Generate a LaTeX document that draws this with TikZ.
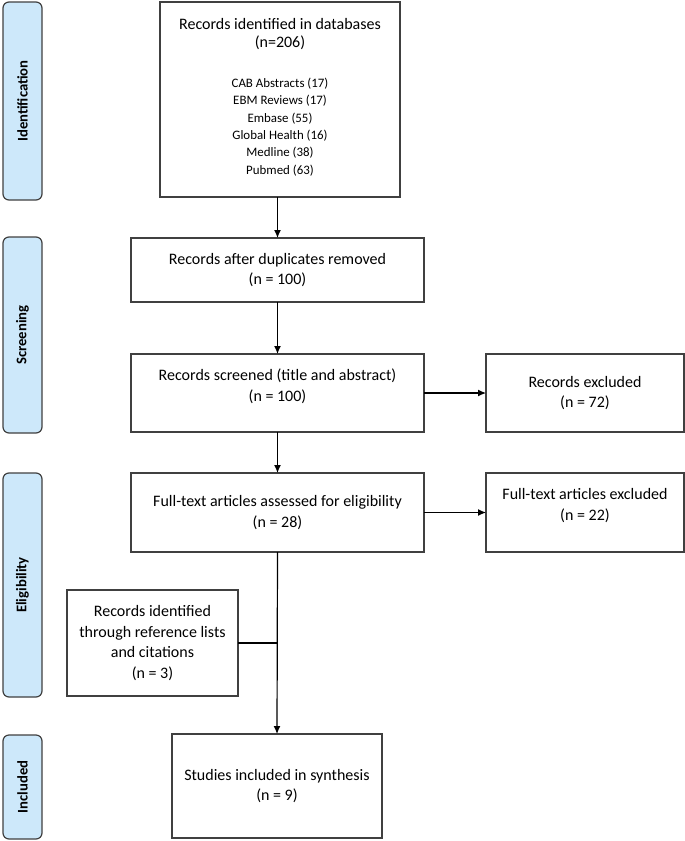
\documentclass[tikz,border=0pt]{standalone}
\usepackage{fontspec}
\setmainfont{Carlito}
\usetikzlibrary{arrows.meta}
\definecolor{sidefill}{HTML}{CDE8FA}
\definecolor{edge}{HTML}{404040}
\begin{document}
\begin{tikzpicture}[x=1pt,y=-1pt,
  box/.style={draw=edge, line width=1.2pt, fill=white, inner sep=0pt, outer sep=0pt, anchor=north west},
  side/.style={draw=edge, line width=1.2pt, fill=sidefill, rounded corners=6pt, inner sep=0pt, outer sep=0pt, anchor=north west, minimum width=39pt},
  sidetxt/.style={rotate=90, font=\fontsize{14.7}{17}\selectfont\bfseries},
  txt/.style={align=center, font=\fontsize{16}{20.7}\selectfont, inner sep=0pt},
  small/.style={align=center, font=\fontsize{12.9}{17.3}\selectfont, inner sep=0pt},
  arr/.style={-{Latex[length=8pt,width=7pt]}, line width=1.2pt},
  ln/.style={line width=1.2pt}]
\useasboundingbox (0,0) rectangle (685,841);
% side bars
\node[side, minimum height=198pt] (s1) at (3,2) {};
\node[sidetxt] (s1t) at (s1.center) {Identification};
\node[side, minimum height=196pt] (s2) at (3,237) {};
\node[sidetxt] (s2t) at (s2.center) {Screening};
\node[side, minimum height=224pt] (s3) at (3,473) {};
\node[sidetxt] (s3t) at (s3.center) {Eligibility};
\node[side, minimum height=104pt] (s4) at (3,735) {};
\node[sidetxt] (s4t) at (s4.center) {Included};
% boxes
\node[box, minimum width=240pt, minimum height=195pt] (b1) at (160,2) {};
\node[txt, font=\fontsize{16}{18.5}\selectfont] (b1t) at (280,34) {Records identified in databases\\(n=206)};
\node[small] (b1l) at (280,127) {CAB Abstracts (17)\\EBM Reviews (17)\\Embase (55)\\Global Health (16)\\Medline (38)\\Pubmed (63)};
\node[box, minimum width=293pt, minimum height=64pt] (b2) at (131,238) {};
\node[txt] (b2t) at (b2.center) {Records after duplicates removed\\(n = 100)};
\node[box, minimum width=293pt, minimum height=78pt] (b3) at (131,354) {};
\node[txt] (b3t) at (277.5,386) {Records screened (title and abstract)\\(n = 100)};
\node[box, minimum width=198pt, minimum height=78pt] (e1) at (486,354) {};
\node[txt] (e1t) at (e1.center) {Records excluded\\(n = 72)};
\node[box, minimum width=293pt, minimum height=79pt] (b4) at (131,473) {};
\node[txt] (b4t) at (b4.center) {Full-text articles assessed for eligibility\\(n = 28)};
\node[box, minimum width=198pt, minimum height=79pt] (e2) at (486,473) {};
\node[txt] (e2t) at (585,505.5) {Full-text articles excluded\\(n = 22)};
\node[box, minimum width=171pt, minimum height=106pt] (r) at (67,590) {};
\node[txt] (rt) at (r.center) {Records identified\\through reference lists\\and citations\\(n = 3)};
\node[box, minimum width=210pt, minimum height=104pt] (b5) at (172,734) {};
\node[txt] (b5t) at (b5.center) {Studies included in synthesis\\(n = 9)};
% connectors
\draw[arr] (b2.north |- b1.south) -- (b2.north);
\draw[arr] (b2.south) -- (b3.north);
\draw[arr] (b3.east) -- (e1.west);
\draw[arr] (b3.south) -- (b4.north);
\draw[arr] (b4.east) -- (e2.west);
\draw[arr] (b4.south) -- (b5.north);
\draw[ln] (r.east) -- (r.east -| b4.south);
\end{tikzpicture}
\end{document}
